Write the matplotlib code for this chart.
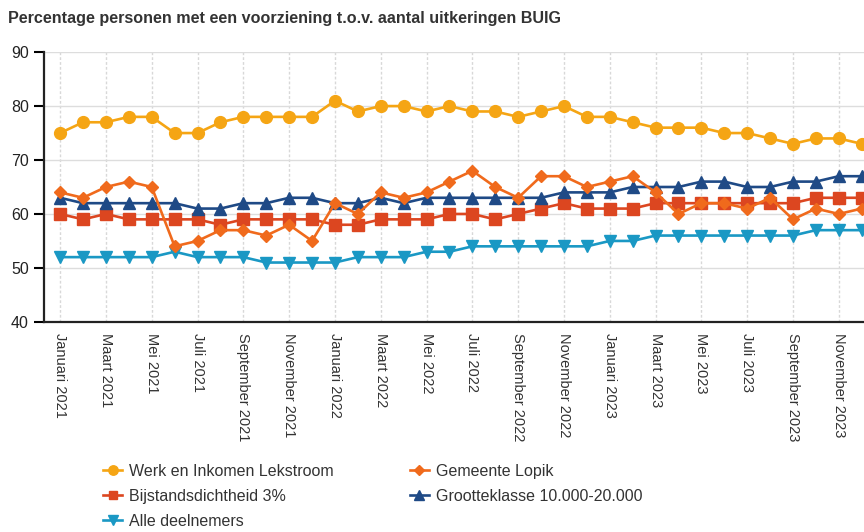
import numpy as np
import matplotlib
matplotlib.use("Agg")
import matplotlib.pyplot as plt

plt.rcParams['font.family'] = ['Liberation Sans', 'DejaVu Sans']

# monthly values, januari 2021 .. december 2023
tick_labels = ['Januari 2021', 'Maart 2021', 'Mei 2021', 'Juli 2021', 'September 2021', 'November 2021',
               'Januari 2022', 'Maart 2022', 'Mei 2022', 'Juli 2022', 'September 2022', 'November 2022',
               'Januari 2023', 'Maart 2023', 'Mei 2023', 'Juli 2023', 'September 2023', 'November 2023']

werk = [75, 77, 77, 78, 78, 75, 75, 77, 78, 78, 78, 78,
        81, 79, 80, 80, 79, 80, 79, 79, 78, 79, 80, 78,
        78, 77, 76, 76, 76, 75, 75, 74, 73, 74, 74, 73]
lopik = [64, 63, 65, 66, 65, 54, 55, 57, 57, 56, 58, 55,
         62, 60, 64, 63, 64, 66, 68, 65, 63, 67, 67, 65,
         66, 67, 64, 60, 62, 62, 61, 63, 59, 61, 60, 61]
bijstand = [60, 59, 60, 59, 59, 59, 59, 58, 59, 59, 59, 59,
            58, 58, 59, 59, 59, 60, 60, 59, 60, 61, 62, 61,
            61, 61, 62, 62, 62, 62, 62, 62, 62, 63, 63, 63]
groot = [63, 62, 62, 62, 62, 62, 61, 61, 62, 62, 63, 63,
         62, 62, 63, 62, 63, 63, 63, 63, 63, 63, 64, 64,
         64, 65, 65, 65, 66, 66, 65, 65, 66, 66, 67, 67]
alle = [52, 52, 52, 52, 52, 53, 52, 52, 52, 51, 51, 51,
        51, 52, 52, 52, 53, 53, 54, 54, 54, 54, 54, 54,
        55, 55, 56, 56, 56, 56, 56, 56, 56, 57, 57, 57]

x = np.arange(len(werk))

fig = plt.figure(figsize=(8.64, 5.32), dpi=100)
ax = fig.add_axes([0.051, 0.395, 0.949, 0.507])

lw = 1.9
h_werk, = ax.plot(x, werk, color='#F5A514', lw=lw, marker='o', ms=8.5, label='Werk en Inkomen Lekstroom')
h_alle, = ax.plot(x, alle, color='#1A98C4', lw=lw, marker='v', ms=8.5, label='Alle deelnemers')
h_bij, = ax.plot(x, bijstand, color='#DC4620', lw=lw, marker='s', ms=8, label='Bijstandsdichtheid 3%')
h_groot, = ax.plot(x, groot, color='#1F4A86', lw=lw, marker='^', ms=8.5, label='Grootteklasse 10.000-20.000')
h_lopik, = ax.plot(x, lopik, color='#F06A1C', lw=lw, marker='D', ms=6, label='Gemeente Lopik')

ax.set_ylim(40, 90)
ax.set_xlim(-0.7, 35.1)
ax.set_yticks([40, 50, 60, 70, 80, 90])
ax.set_xticks(x[::2])
ax.set_xticklabels(tick_labels, rotation=-90, fontsize=10.5, color='#333333', va='top', ha='center')
ax.tick_params(axis='x', length=0, pad=8)
ax.tick_params(axis='y', length=7, width=1.5, labelsize=11.5, labelcolor='#222222', pad=4)

ax.grid(axis='y', color='#dddddd', lw=1)
ax.grid(axis='x', color='#d8d8d8', lw=1, ls=(0, (2, 1.5)))
ax.set_axisbelow(True)
for s in ['top', 'right']:
    ax.spines[s].set_visible(False)
for s in ['left', 'bottom']:
    ax.spines[s].set_linewidth(1.6)
    ax.spines[s].set_color('#222222')

fig.text(0.009, 0.966, 'Percentage personen met een voorziening t.o.v. aantal uitkeringen BUIG',
         fontsize=11.6, fontweight='bold', color='#333333', va='center', ha='left')

fig.legend(handles=[h_werk, h_bij, h_alle, h_lopik, h_groot], ncol=2,
           loc='upper left', bbox_to_anchor=(0.11, 0.143), frameon=False,
           fontsize=11.5, handlelength=1.2, handletextpad=0.45, labelspacing=0.62,
           columnspacing=4.75, markerscale=0.8, borderpad=0, labelcolor='#333333')

fig.savefig('out.png', dpi=100)
